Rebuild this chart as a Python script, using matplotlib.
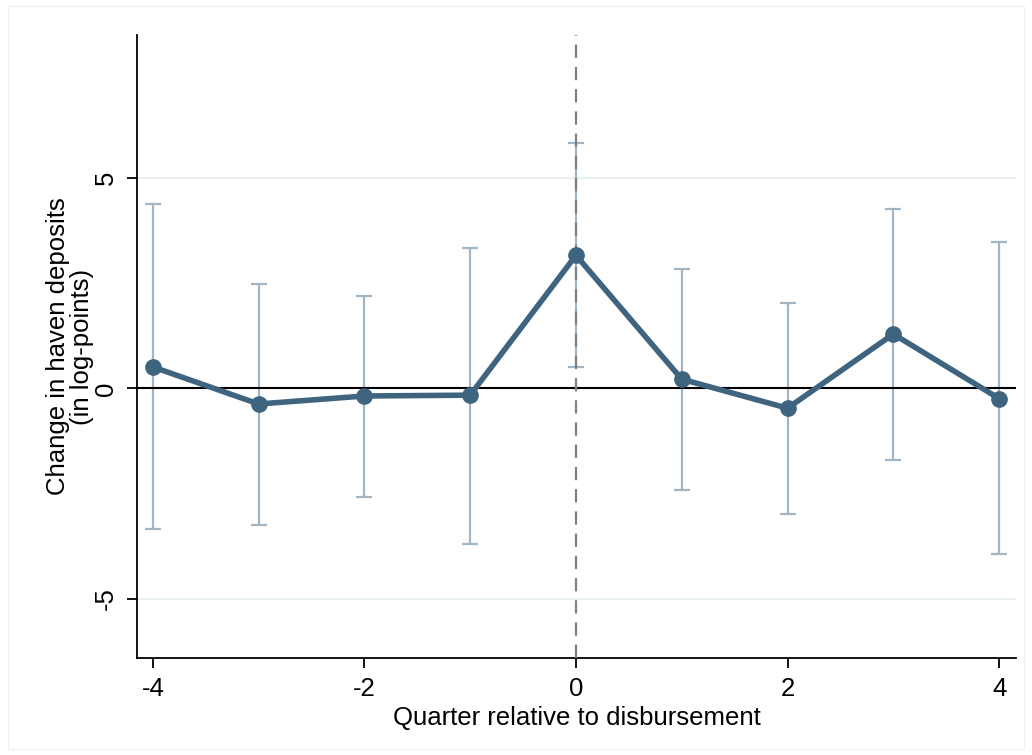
import matplotlib.pyplot as plt
from matplotlib.patches import Rectangle

# Event-study estimates
quarters = [-4, -3, -2, -1, 0, 1, 2, 3, 4]
coef = [0.51, -0.37, -0.18, -0.16, 3.16, 0.22, -0.47, 1.29, -0.24]
ci_low = [-3.34, -3.25, -2.57, -3.70, 0.50, -2.40, -2.98, -1.69, -3.92]
ci_high = [4.37, 2.49, 2.19, 3.34, 5.83, 2.84, 2.03, 4.27, 3.47]

x_ticks = [-4, -2, 0, 2, 4]
y_ticks = [-5, 0, 5]

plt.rcParams['font.family'] = ['Liberation Sans', 'DejaVu Sans']

fig = plt.figure(figsize=(10.32, 7.55), dpi=100)
ax = fig.add_axes([137 / 1032, 97 / 755, 879 / 1032, 623 / 755])

# faint outer border of the graph region
fig.patches.append(Rectangle((8 / 1032, 6 / 755), 1016 / 1032, 743 / 755,
                             transform=fig.transFigure, fill=False,
                             edgecolor='#f2f2f2', linewidth=1))

line_col = '#3e6480'
ci_col = '#a2b5c4'

# gridlines at +-5
for yv in [-5, 5]:
    ax.axhline(yv, color='#e8f0f2', linewidth=1.5, zorder=0)

# confidence intervals
err_low = [c - lo for c, lo in zip(coef, ci_low)]
err_high = [hi - c for c, hi in zip(coef, ci_high)]
ax.errorbar(quarters, coef, yerr=[err_low, err_high], fmt='none',
            ecolor=ci_col, elinewidth=1.6, capsize=6, capthick=1.6, zorder=2)

ax.axhline(0, color='black', linewidth=1.5, zorder=3)
ax.axvline(0, color='#808080', linewidth=1.6, linestyle=(0, (6, 4)), zorder=3)

ax.plot(quarters, coef, color=line_col, linewidth=4, marker='o',
        markersize=11, zorder=4)

ax.set_xlim(-4.15, 4.16)
ax.set_ylim(-6.40, 8.39)
ax.set_xticks(x_ticks)
ax.set_xticklabels([str(v) for v in x_ticks])
ax.set_yticks(y_ticks)
ax.set_yticklabels([str(v) for v in y_ticks], rotation=90, va='center')

for side in ['top', 'right']:
    ax.spines[side].set_visible(False)
for side in ['left', 'bottom']:
    ax.spines[side].set_linewidth(1.3)

ax.tick_params(axis='both', direction='out', length=7, width=1.3,
               labelsize=18.5, pad=7)

ax.set_xlabel('Quarter relative to disbursement', fontsize=18.5, labelpad=3)
ax.set_ylabel('Change in haven deposits\n(in log-points)', fontsize=18.5,
              labelpad=0, linespacing=1.0)

fig.savefig('out.png', dpi=100)
